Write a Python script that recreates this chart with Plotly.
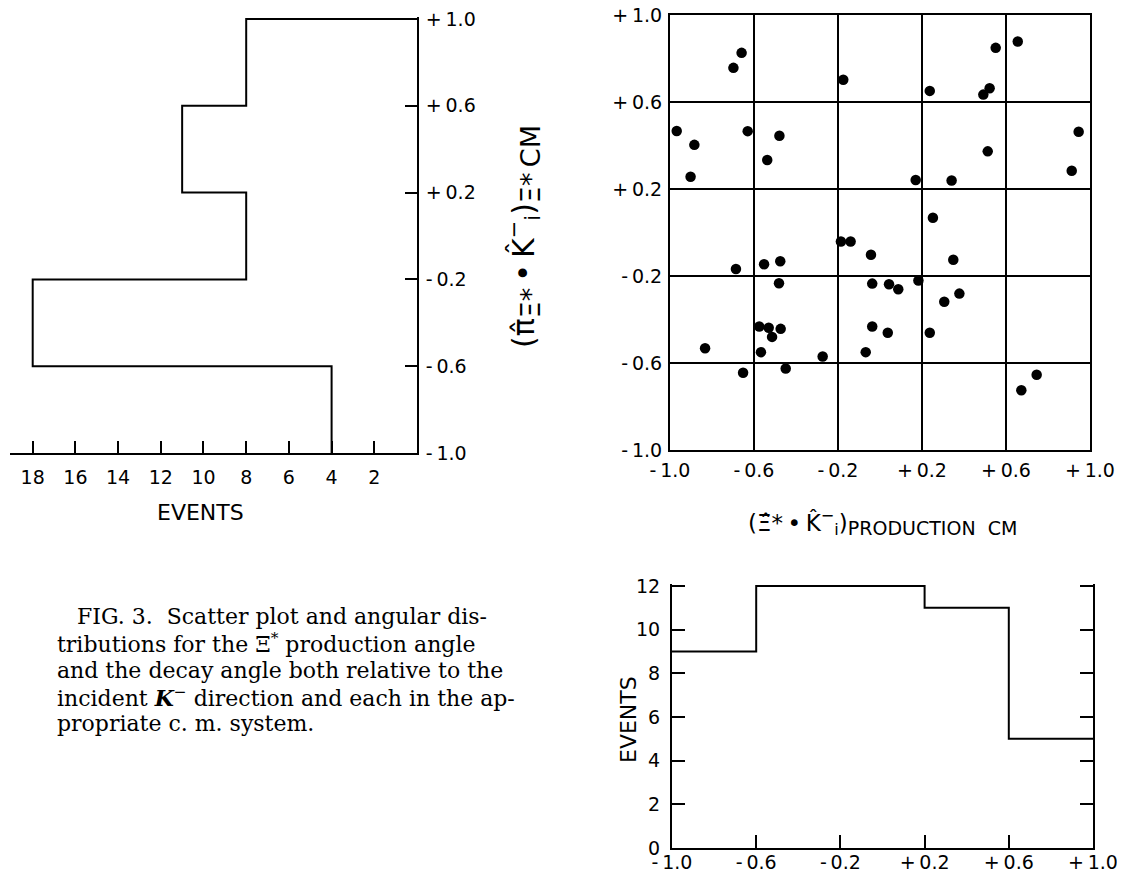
import plotly.graph_objects as go

# ---------------- data ----------------
# scatter: production angle cosine (x) vs decay angle cosine (y)
scatter_x = [-0.968, -0.884, -0.902, -0.698, -0.659, -0.630, -0.479, -0.537, -0.175, 0.237,
             0.492, 0.522, 0.551, 0.656, 0.513, 0.170, 0.341, 0.913, 0.946, 0.252,
             -0.186, -0.140, -0.043, -0.686, -0.552, -0.475, -0.481, 0.349, -0.037, 0.043,
             0.087, 0.183, 0.378, 0.306, -0.575, -0.530, -0.473, -0.514, -0.567, -0.833,
             -0.652, -0.449, -0.273, -0.068, -0.037, 0.037, 0.237, 0.673, 0.746]
scatter_y = [0.467, 0.403, 0.256, 0.757, 0.826, 0.466, 0.445, 0.333, 0.702, 0.651,
             0.634, 0.663, 0.849, 0.878, 0.373, 0.241, 0.239, 0.284, 0.463, 0.068,
             -0.041, -0.041, -0.102, -0.168, -0.146, -0.132, -0.233, -0.125, -0.235, -0.238,
             -0.261, -0.221, -0.281, -0.318, -0.432, -0.438, -0.443, -0.480, -0.550, -0.532,
             -0.645, -0.625, -0.570, -0.550, -0.432, -0.461, -0.461, -0.725, -0.654]

bin_edges = [-1.0, -0.6, -0.2, 0.2, 0.6, 1.0]
decay_counts = [4, 18, 8, 11, 8]          # left histogram (decay angle)
production_counts = [9, 12, 12, 11, 5]    # bottom histogram (production angle)

angle_ticks = [-1.0, -0.6, -0.2, 0.2, 0.6, 1.0]
angle_labels = ["-\u20091.0", "-\u20090.6", "-\u20090.2", "+\u20090.2", "+\u20090.6", "+\u20091.0"]
left_event_ticks = [2, 4, 6, 8, 10, 12, 14, 16, 18]
bottom_event_ticks = [0, 2, 4, 6, 8, 10, 12]

caption_lines = [
    "FIG. 3.  Scatter plot and angular dis-",
    "tributions for the Ξ<sup>*</sup> production angle",
    "and the decay angle both relative to the",
    "incident <i><b>K</b></i><sup>−</sup> direction and each in the ap-",
    "propriate c. m. system.",
]

# ---------------- layout helpers ----------------
OFF = 8                     # page body margin of the written html
W, H = 1125 - OFF, 879 - OFF
def px(x):
    return (x - OFF) / W
def py(y):
    return 1 - (y - OFF) / H

def xdom(p_lo, p_hi, v_lo, v_hi, r_lo, r_hi):
    k = (p_hi - p_lo) / (v_hi - v_lo)
    return [px(p_lo - (v_lo - r_lo) * k), px(p_hi + (r_hi - v_hi) * k)]

def ydom(p_bot, p_top, v_lo, v_hi, r_lo, r_hi):
    k = (p_bot - p_top) / (v_hi - v_lo)
    return [py(p_bot + (v_lo - r_lo) * k), py(p_top - (r_hi - v_hi) * k)]

SANS = "DejaVu Sans"
SERIF = "DejaVu Serif"
TICKFONT = dict(family=SANS, size=19, color="black")
LW = 2

# step paths built from the histogram arrays
left_x = [decay_counts[0]]
left_y = [bin_edges[0]]
for i, c in enumerate(decay_counts):
    left_x += [c, c]
    left_y += [bin_edges[i], bin_edges[i + 1]]
left_x.append(0)
left_y.append(bin_edges[-1])

bot_x, bot_y = [], []
for i, c in enumerate(production_counts):
    bot_x += [bin_edges[i], bin_edges[i + 1]]
    bot_y += [c, c]

fig = go.Figure()

fig.add_trace(go.Scatter(x=left_x, y=left_y, mode="lines", xaxis="x", yaxis="y",
                         line=dict(color="black", width=LW),
                         cliponaxis=False, showlegend=False))
fig.add_trace(go.Scatter(x=scatter_x, y=scatter_y, mode="markers", xaxis="x2", yaxis="y2",
                         marker=dict(color="black", size=10.5), cliponaxis=False,
                         showlegend=False))
fig.add_trace(go.Scatter(x=bot_x, y=bot_y, mode="lines", xaxis="x3", yaxis="y3",
                         line=dict(color="black", width=LW), cliponaxis=False,
                         showlegend=False))

common = dict(zeroline=False, linecolor="black", linewidth=LW, automargin=False,
              ticklabeloverflow="allow",
              tickcolor="black", tickwidth=LW, tickfont=TICKFONT)

LEFT_YR = [-1.0, 1.008]
BOT_YR = [0, 12.1]

fig.update_layout(
    template="none",
    width=W, height=H,
    margin=dict(l=0, r=0, t=0, b=0, autoexpand=False),
    paper_bgcolor="white", plot_bgcolor="white",
    showlegend=False,
    # left histogram
    xaxis=dict(domain=xdom(32.7, 417, 18, 0, 19.06, 0), range=[19.06, 0], anchor="y",
               showline=True, showgrid=False, ticks="inside", ticklen=12,
               tickvals=left_event_ticks, ticktext=[str(v) for v in left_event_ticks],
               ticklabelstandoff=6, **common),
    yaxis=dict(domain=ydom(453, 19, -1, 1, *LEFT_YR), range=LEFT_YR, anchor="x", side="right",
               showline=True, showgrid=False, ticks="inside", ticklen=12,
               tickvals=angle_ticks, ticktext=angle_labels, ticklabelstandoff=3, **common),
    # scatter
    xaxis2=dict(domain=[px(670), px(1090)], range=[-1, 1], anchor="y2",
                showline=True, mirror=True, ticks="",
                tickvals=angle_ticks, ticktext=angle_labels, ticklabelstandoff=2,
                showgrid=True, gridcolor="black", gridwidth=1.8, **common),
    yaxis2=dict(domain=[py(450), py(15)], range=[-1, 1], anchor="x2",
                showline=True, mirror=True, ticks="",
                tickvals=angle_ticks, ticktext=angle_labels, ticklabelstandoff=2,
                showgrid=True, gridcolor="black", gridwidth=1.8, **common),
    # bottom histogram
    xaxis3=dict(domain=[px(672), px(1093)], range=[-1, 1], anchor="y3",
                showline=True, showgrid=False, ticks="inside", ticklen=13,
                tickvals=angle_ticks, ticktext=angle_labels, ticklabelstandoff=-4, **common),
    yaxis3=dict(domain=ydom(848, 586, 0, 12, *BOT_YR), range=BOT_YR, anchor="x3",
                showline=True, showgrid=False, mirror="ticks", ticks="inside", ticklen=13,
                tickvals=bottom_event_ticks, ticktext=[str(v) for v in bottom_event_ticks],
                ticklabelstandoff=6, **common),
)

def label(x, y, text, size, angle=0, family=SANS):
    return dict(x=px(x), y=py(y), text=text, showarrow=False, textangle=angle,
                xanchor="center", yanchor="middle", xref="paper", yref="paper",
                font=dict(family=family, size=size, color="black"))

BIG = '<span style="font-size:27px">'
MID = '<span style="font-size:19px">'
annotations = [
    label(200, 512, "EVENTS", 22),
    label(524, 237,
          "(π̂<sub>" + BIG + "Ξ*</span></sub>\u2009•\u2009K̂<sup>−</sup><sub>i</sub>)<sub>"
          + BIG + "Ξ*\u2009CM</span></sub>", 30, -90),
    label(882, 522,
          "(Ξ̂*\u2009•\u2009K̂<sup>−</sup><sub>i</sub>)<sub>" + MID + "PRODUCTION  CM</span></sub>",
          23),
    label(628, 720, "EVENTS", 22, -90),
]
caption_x = [75, 55, 55, 55, 55]
caption_y = [616, 643, 670, 697, 723]
for t, cx, cy in zip(caption_lines, caption_x, caption_y):
    annotations.append(dict(x=px(cx), y=py(cy), text=t, showarrow=False,
                            xanchor="left", yanchor="middle", align="left",
                            font=dict(family=SERIF, size=22, color="black"),
                            xref="paper", yref="paper"))
fig.update_layout(annotations=annotations)

fig.write_html("out.html")
